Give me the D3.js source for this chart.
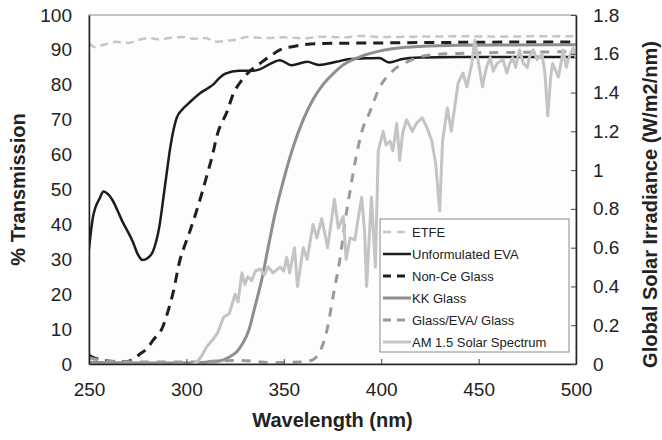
<!DOCTYPE html>
<html>
<head>
<meta charset="utf-8">
<script src="https://cdn.jsdelivr.net/npm/d3@7"></script>
<style>
  body { margin: 0; background: #fff; }
  text { font-family: 'Liberation Sans', Arial, sans-serif; fill: #222; }
</style>
</head>
<body>
<svg id="chart" width="662" height="440"></svg>
<script>
// [wavelength nm, % transmission]
const etfe = [[250, 92], [253, 90.8], [257, 91.4], [264, 92.3], [270, 92], [276, 93], [281, 93.4], [286, 93], [292, 93.5], [298, 93.7], [304, 93.2], [310, 93.4], [315, 92.3], [320, 92.6], [326, 93], [331, 93.7], [340, 93.4], [350, 93.6], [360, 93.3], [370, 93.8], [380, 93.6], [390, 94], [400, 93.7], [420, 93.8], [440, 93.9], [460, 93.8], [480, 93.9], [500, 93.9]];

const eva = [[250, 33], [252, 42], [255.5, 47.5], [257.5, 49.4], [260, 48.5], [262, 47], [267, 41], [272.5, 35], [275, 31.5], [277.5, 29.8], [280, 30.3], [283, 32.5], [286, 39], [289, 51], [292, 63], [295, 70.5], [298, 73], [301, 74.6], [304, 76.2], [307, 77.6], [311, 79], [314, 80.2], [317, 82], [320, 83.2], [327, 84], [333, 84], [338, 84.5], [343, 86], [348, 87], [354, 85.6], [362, 86.6], [368, 85.7], [377, 86.6], [384, 87.4], [392, 87.6], [399, 87.7], [404, 86.4], [411, 87.4], [420, 87.8], [440, 88], [470, 88], [500, 88]];

const nonCe = [[250, 2.5], [253, 1.7], [258, 1], [266, 0.6], [271, 0.9], [276, 2.8], [280, 4.6], [283, 6.9], [288, 10.8], [290.5, 15], [293, 20], [296.7, 29.8], [299.5, 34.5], [302, 38.4], [305, 43.5], [308, 49], [311, 55], [313, 59], [316, 66], [321, 72.5], [324, 77.3], [328, 81], [332, 83.6], [338, 86.2], [343, 88.2], [348, 90], [355, 91], [367, 91.8], [400, 92], [450, 92.2], [500, 92.3]];

const kkGlass = [[250, 0.5], [280, 0.3], [300, 0.3], [310, 0.5], [318, 1], [322, 2], [326, 3.6], [329, 6], [332, 9.6], [335, 16], [339, 25], [342, 33.5], [345.5, 43], [350, 53], [355, 62.5], [360, 70], [365, 75.8], [370, 80], [375, 83], [380, 85.5], [389, 88], [400, 89.8], [408, 90.5], [420, 91], [440, 91.3], [470, 91.4], [500, 91.5]];

const glassEvaGlass = [[250, 1.8], [255, 1.2], [262, 0.8], [275, 0.6], [300, 0.6], [327, 1], [345, 0.4], [360, 0.6], [364, 1], [367, 2.2], [370, 5.5], [372.5, 10.6], [375.5, 20], [379, 30.7], [381.5, 41], [384, 49.5], [387, 59], [390, 66.5], [394, 72], [399, 79], [406, 84], [415, 87], [424, 88.5], [440, 89], [470, 89.3], [500, 89.5]];

// [wavelength nm, W/m2/nm]
const am15 = [[303.5, 0], [305.5, 0.01], [308, 0.045], [310.5, 0.09], [313.5, 0.125], [316, 0.16], [319, 0.24], [322, 0.26], [325, 0.36], [326.5, 0.32], [328.5, 0.47], [330, 0.41], [331.5, 0.45], [333.5, 0.43], [335.5, 0.48], [338, 0.49], [340, 0.46], [342, 0.5], [344.5, 0.47], [348, 0.5], [350, 0.48], [351.5, 0.55], [353, 0.47], [355.5, 0.6], [357, 0.4], [360, 0.6], [362, 0.54], [365, 0.72], [367, 0.65], [369.5, 0.75], [372.5, 0.6], [376, 0.85], [378, 0.7], [380.5, 0.76], [382, 0.54], [384, 0.65], [386.5, 0.64], [388, 0.74], [390, 0.86], [391.5, 0.68], [392.5, 0.4], [395, 0.86], [397, 0.5], [398.5, 1.1], [401, 1.2], [402.5, 1.13], [404.5, 1.15], [406, 1.1], [408, 1.24], [409.5, 1.05], [411, 1.19], [413, 1.26], [416, 1.2], [418, 1.24], [421, 1.27], [423.5, 1.22], [426, 1.15], [428, 1.03], [430, 0.79], [431.5, 1.15], [434, 1.32], [436, 1.2], [439.5, 1.45], [442, 1.5], [444, 1.43], [446.5, 1.55], [448, 1.67], [449.5, 1.58], [452, 1.43], [454, 1.53], [456, 1.58], [457.5, 1.51], [459.5, 1.55], [462.5, 1.57], [464.5, 1.5], [466, 1.55], [467.5, 1.58], [469, 1.53], [471, 1.62], [473, 1.55], [475, 1.53], [476, 1.58], [478, 1.62], [480, 1.57], [482.5, 1.6], [484, 1.51], [485.5, 1.28], [487, 1.48], [488, 1.55], [491, 1.48], [493.5, 1.62], [495, 1.53], [496, 1.57], [498.5, 1.63], [500, 1.58]];

const xTicks = [250, 300, 350, 400, 450, 500];
const yTicks = [0, 10, 20, 30, 40, 50, 60, 70, 80, 90, 100];
const y2Ticks = [0, 0.2, 0.4, 0.6, 0.8, 1, 1.2, 1.4, 1.6, 1.8];

const series = [
  { name: 'ETFE', data: etfe, color: '#c6c6c6', width: 2.5, dash: '8,5', axis: 'left', curve: d3.curveMonotoneX },
  { name: 'Unformulated EVA', data: eva, color: '#1c1c1c', width: 2.5, dash: null, axis: 'left', curve: d3.curveMonotoneX },
  { name: 'Non-Ce Glass', data: nonCe, color: '#1f1f1f', width: 3, dash: '10,7', axis: 'left', curve: d3.curveMonotoneX },
  { name: 'KK Glass', data: kkGlass, color: '#8e8e8e', width: 3, dash: null, axis: 'left', curve: d3.curveMonotoneX },
  { name: 'Glass/EVA/ Glass', data: glassEvaGlass, color: '#9a9a9a', width: 3, dash: '9,8', axis: 'left', curve: d3.curveMonotoneX },
  { name: 'AM 1.5 Solar Spectrum', data: am15, color: '#c4c4c4', width: 3, dash: null, axis: 'right', curve: d3.curveLinear }
];

const margin = { top: 15, right: 86, bottom: 76, left: 89 },
  width = 662,
  height = 440;

const svg = d3.select('#chart');

const x = d3.scaleLinear().domain([250, 500]).range([margin.left, width - margin.right]);
const y = d3.scaleLinear().domain([0, 100]).range([height - margin.bottom, margin.top]);
const y2 = d3.scaleLinear().domain([0, 1.8]).range([height - margin.bottom, margin.top]);

svg.append('defs').append('clipPath').attr('id', 'plotClip')
  .append('rect')
  .attr('x', margin.left).attr('y', margin.top - 2)
  .attr('width', width - margin.left - margin.right)
  .attr('height', height - margin.top - margin.bottom + 2);

// plot frame
svg.append('rect')
  .attr('x', margin.left).attr('y', margin.top)
  .attr('width', width - margin.left - margin.right)
  .attr('height', height - margin.top - margin.bottom)
  .attr('fill', '#fdfdfd')
  .attr('stroke', '#8a8a8a');

const lines = svg.append('g').attr('clip-path', 'url(#plotClip)');

series.forEach(s => {
  const yy = s.axis === 'left' ? y : y2;
  const line = d3.line().curve(s.curve).x(d => x(d[0])).y(d => yy(d[1]));
  lines.append('path')
    .datum(s.data)
    .attr('fill', 'none')
    .attr('stroke', s.color)
    .attr('stroke-width', s.width)
    .attr('stroke-dasharray', s.dash)
    .attr('stroke-linejoin', 'round')
    .attr('d', line);
});

// axes
svg.append('g')
  .attr('transform', `translate(0,${height - margin.bottom})`)
  .call(d3.axisBottom(x).tickValues(xTicks).tickSizeInner(-5).tickSizeOuter(0).tickPadding(19))
  .call(g => g.select('.domain').attr('stroke', '#222').attr('stroke-width', 1.5))
  .call(g => g.selectAll('.tick line').attr('stroke', '#444'))
  .call(g => g.selectAll('.tick text').style('font-size', '19px').attr('fill', '#222'));

svg.append('g')
  .attr('transform', `translate(${margin.left},0)`)
  .call(d3.axisLeft(y).tickValues(yTicks).tickSize(0).tickPadding(17))
  .call(g => g.select('.domain').attr('stroke', '#222').attr('stroke-width', 1.5))
  .call(g => g.selectAll('.tick text').style('font-size', '19px').attr('fill', '#222'));

svg.append('g')
  .attr('transform', `translate(${width - margin.right},0)`)
  .call(d3.axisRight(y2).tickValues(y2Ticks).tickFormat(d3.format('~g')).tickSizeInner(-5).tickSizeOuter(0).tickPadding(17))
  .call(g => g.select('.domain').attr('stroke', '#222').attr('stroke-width', 1.5))
  .call(g => g.selectAll('.tick line').attr('stroke', '#444'))
  .call(g => g.selectAll('.tick text').style('font-size', '19px').attr('fill', '#222'));

// axis titles
svg.append('text')
  .attr('x', (margin.left + width - margin.right) / 2)
  .attr('y', 427)
  .attr('text-anchor', 'middle')
  .style('font-size', '20px')
  .style('font-weight', 'bold')
  .text('Wavelength (nm)');

svg.append('text')
  .attr('transform', `translate(25,${(margin.top + height - margin.bottom) / 2}) rotate(-90)`)
  .attr('text-anchor', 'middle')
  .style('font-size', '20px')
  .style('font-weight', 'bold')
  .text('% Transmission');

svg.append('text')
  .attr('transform', `translate(657,${(margin.top + height - margin.bottom) / 2 + 15}) rotate(-90)`)
  .attr('text-anchor', 'middle')
  .style('font-size', '20px')
  .style('font-weight', 'bold')
  .text('Global Solar Irradiance (W/m2/nm)');

// legend
const legend = svg.append('g').attr('transform', 'translate(380,219)');
legend.append('rect')
  .attr('width', 189).attr('height', 133)
  .attr('fill', '#fff')
  .attr('stroke', '#8a8a8a');

const item = legend.selectAll('.item')
  .data(series)
  .join('g')
  .attr('class', 'item')
  .attr('transform', (d, i) => `translate(0,${13 + i * 22})`);

item.append('line')
  .attr('x1', 3).attr('x2', 31)
  .attr('stroke', d => d.color)
  .attr('stroke-width', d => d.width)
  .attr('stroke-dasharray', d => d.dash ? '8,6' : null);

item.append('text')
  .attr('x', 32)
  .attr('dy', '0.35em')
  .style('font-size', '13px')
  .text(d => d.name);
</script>
</body>
</html>
